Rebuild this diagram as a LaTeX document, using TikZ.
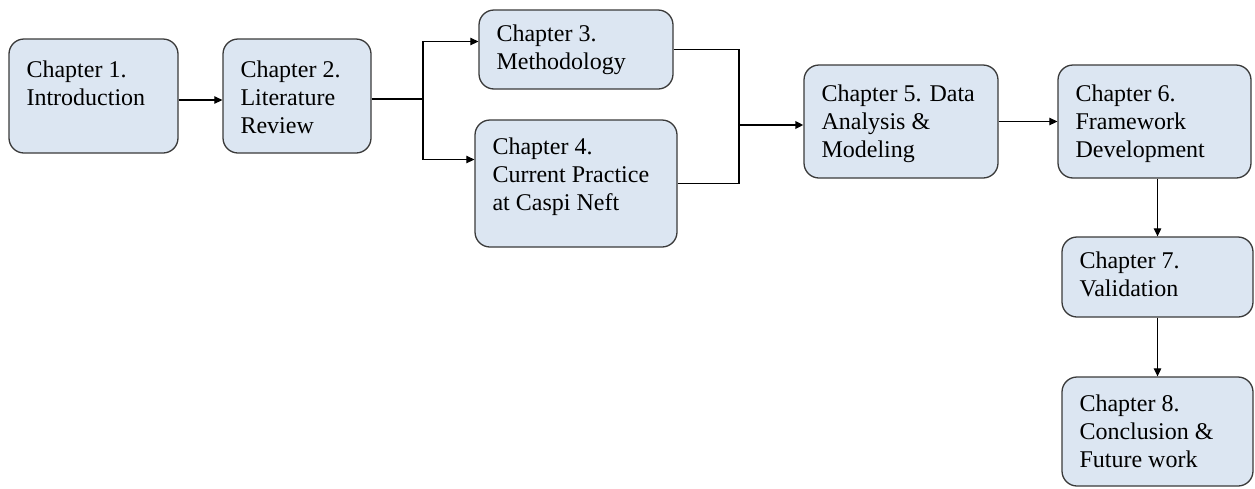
\documentclass[tikz,border=0pt]{standalone}
\usepackage{fontspec}
\setmainfont{Liberation Serif}
\usetikzlibrary{arrows.meta}
\definecolor{boxfill}{HTML}{DCE6F2}
\definecolor{boxline}{HTML}{3A3A3A}
\tikzset{
  chapbox/.style={draw=boxline, fill=boxfill, line width=1.3pt, rounded corners=15pt, inner sep=0pt},
  chaptext/.style={anchor=north west, align=left, inner sep=0pt, text=black,
    font=\fontsize{24}{28}\selectfont},
  link/.style={line width=1.2pt, draw=black},
  boldlink/.style={line width=2pt, draw=black},
  tip/.style={-{Triangle[length=8pt,width=7.5pt]}}
}
% chapter box: name, left, top, right, bottom, first-baseline offset, text
% (a strut of 18pt fixes the distance from the text top to the first baseline)
\newcommand{\chapnode}[7]{%
  \node[chapbox, minimum width={(#4-#2)*1pt}, minimum height={(#5-#3)*1pt}]
    (#1) at ({(#2+#4)/2},{(#3+#5)/2}) {};
  \node[chaptext] (#1-t) at ([xshift=18pt,yshift={-(#6-18)*1pt}]#1.north west)
    {\rule{0pt}{18pt}#7};
}
\begin{document}
\begin{tikzpicture}[x=1pt,y=-1pt]
  \useasboundingbox (0,0) rectangle (1255,488);
  \chapnode{c1}{9}{39}{178}{153}{39}{Chapter 1.\\Introduction}
  \chapnode{c2}{223}{39}{371}{153}{39}{Chapter 2.\\Literature\\Review}
  \chapnode{c3}{479}{10}{673}{89}{32}{Chapter 3.\\Methodology}
  \chapnode{c4}{475}{120}{677}{247}{35}{Chapter 4.\\Current Practice\\at Caspi Neft}
  \chapnode{c5}{804}{65}{998}{178}{37}{Chapter 5. Data\\Analysis \&\\Modeling}
  \chapnode{c6}{1058}{65}{1251}{178}{37}{Chapter 6.\\Framework\\Development}
  \chapnode{c7}{1062}{237}{1253}{317}{32}{Chapter 7.\\Validation}
  \chapnode{c8}{1062}{377}{1253}{486}{35}{Chapter 8.\\Conclusion \&\\Future work}

  % branch points
  \coordinate (split) at (423,99);
  \coordinate (merge) at (739,125);

  \draw[link, tip] ([yshift=-4pt]c1.east) -- ([yshift=-4pt]c2.west);
  \draw[boldlink] (c2.east |- split) -- (split);
  \draw[link, tip] (split) |- ([yshift=8pt]c3.west);
  \draw[link, tip] (split) |- ([yshift=24pt]c4.west);
  \draw[link] (c3.east) -| (merge);
  \draw[link] (c4.east) -| (merge);
  \draw[boldlink, tip] (merge) -- (c5.west |- merge);
  \draw[link, tip] (c5.east) -- (c6.west);
  \draw[link, tip] (c7.north |- c6.south) -- (c7.north);
  \draw[link, tip] (c7.south) -- (c8.north);
\end{tikzpicture}
\end{document}
